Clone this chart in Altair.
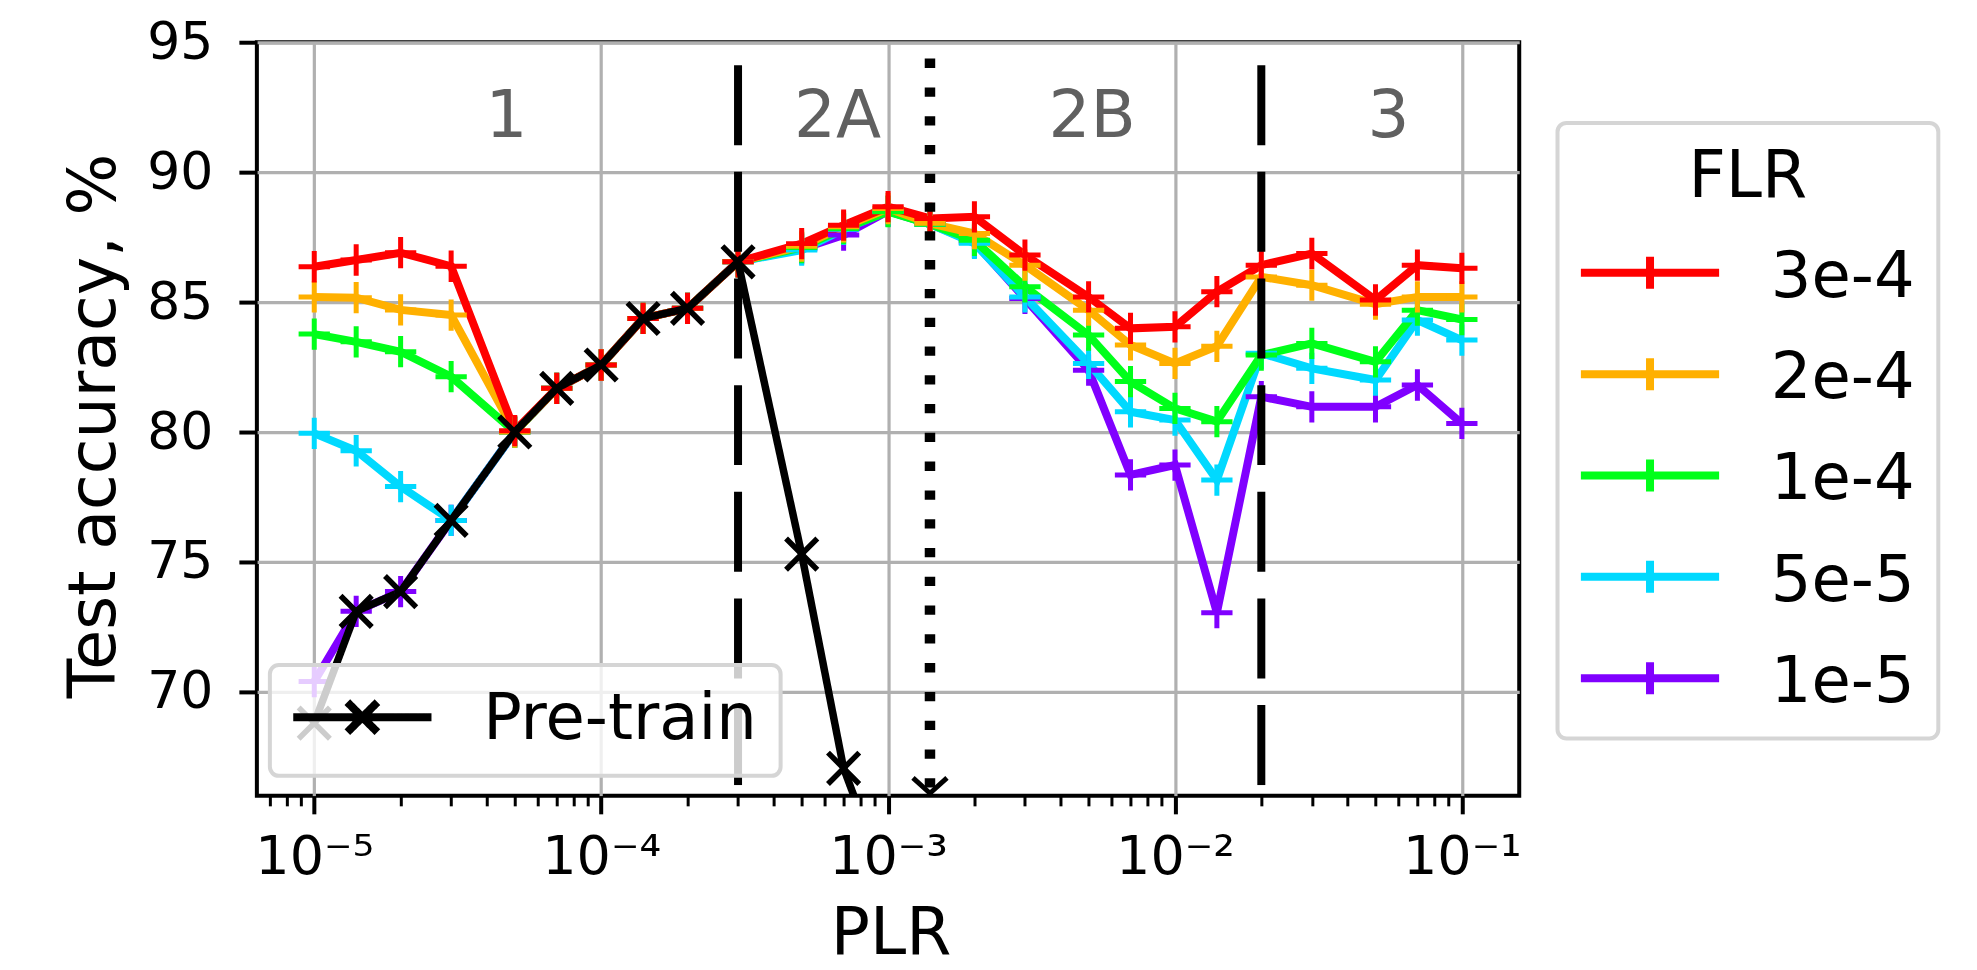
import altair as alt
import pandas as pd

# ---------------- data ----------------
plr = [1e-5, 1.4e-5, 2e-5, 3e-5, 5e-5, 7e-5, 1e-4, 1.4e-4, 2e-4, 3e-4,
       5e-4, 7e-4, 1e-3, 1.4e-3, 2e-3, 3e-3, 5e-3, 7e-3, 1e-2, 1.4e-2,
       2e-2, 3e-2, 5e-2, 7e-2, 1e-1]

flr_labels = ["3e-4", "2e-4", "1e-4", "5e-5", "1e-5"]
flr_colors = ["#ff0000", "#ffb000", "#00ff1a", "#00d9ff", "#8000ff"]

acc_3e4 = [86.36, 86.62, 86.90, 86.38, 80.05, 81.68, 82.58, 84.37, 84.76, 86.55,
           87.25, 87.96, 88.67, 88.22, 88.28, 86.81, 85.20, 83.99, 84.05, 85.40,
           86.42, 86.87, 85.08, 86.42, 86.30]
acc_2e4 = [85.20, 85.17, 84.70, 84.50, 80.00, 81.68, 82.58, 84.37, 84.76, 86.55,
           87.15, 87.90, 88.60, 88.03, 87.64, 86.42, 84.69, 83.35, 82.64, 83.30,
           85.97, 85.65, 84.92, 85.20, 85.20]
acc_1e4 = [83.77, 83.47, 83.09, 82.13, 80.00, 81.68, 82.58, 84.37, 84.76, 86.55,
           87.10, 87.83, 88.48, 88.00, 87.38, 85.59, 83.73, 81.94, 80.91, 80.40,
           82.96, 83.41, 82.70, 84.69, 84.33]
acc_5e5 = [79.95, 79.28, 77.90, 76.60, 80.00, 81.68, 82.58, 84.37, 84.76, 86.55,
           87.00, 87.80, 88.50, 88.00, 87.26, 85.20, 82.64, 80.78, 80.46, 78.15,
           83.03, 82.45, 82.00, 84.31, 83.54]
acc_1e5 = [70.40, 73.10, 73.86, 76.60, 80.00, 81.68, 82.58, 84.37, 84.76, 86.55,
           87.05, 87.58, 88.50, 88.00, 87.30, 85.14, 82.38, 78.35, 78.73, 73.05,
           81.36, 80.97, 80.97, 81.81, 80.33]

pretrain_plr = [1e-5, 1.4e-5, 2e-5, 3e-5, 5e-5, 7e-5, 1e-4, 1.4e-4, 2e-4, 3e-4,
                5e-4, 7e-4, 1e-3]
pretrain_acc = [68.80, 73.10, 73.86, 76.60, 80.00, 81.68, 82.58, 84.37, 84.76, 86.55,
                75.30, 67.06, 62.50]

region_labels = ["1", "2A", "2B", "3"]
region_x = [4.68e-5, 6.67e-4, 5.14e-3, 5.55e-2]
region_y = [91.35, 91.35, 91.35, 91.35]

dashed_x = [3e-4, 2e-2]
dotted_x = [1.4e-3]
dotted_top = [94.37]
dotted_bottom = [66.1]

x_major = [1e-5, 1e-4, 1e-3, 1e-2, 1e-1]
x_tick_labels = ["10⁻⁵", "10⁻⁴", "10⁻³", "10⁻²", "10⁻¹"]
x_minor = [7e-6, 8e-6, 9e-6] + [m * 10.0 ** e for e in (-5, -4, -3, -2) for m in range(2, 10)]
y_ticks = [70, 75, 80, 85, 90, 95]

# ---------------- tables ----------------
series_order = [("1e-5", acc_1e5), ("5e-5", acc_5e5), ("1e-4", acc_1e4),
                ("2e-4", acc_2e4), ("3e-4", acc_3e4)]
rows = []
for lab, vals in series_order:
    for xv, yv in zip(plr, vals):
        rows.append({"PLR": xv, "acc": yv, "FLR": lab})
flr_df = pd.DataFrame(rows)

pre_df = pd.DataFrame({"PLR": pretrain_plr, "acc": pretrain_acc,
                       "series": ["Pre-train"] * len(pretrain_plr)})
region_df = pd.DataFrame({"PLR": region_x, "acc": region_y, "label": region_labels})
dashed_df = pd.DataFrame({"PLR": dashed_x, "acc": [95] * len(dashed_x), "bottom": [66] * len(dashed_x)})
dotted_df = pd.DataFrame({"PLR": dotted_x, "acc": dotted_top, "bottom": dotted_bottom})

FONT = "DejaVu Sans"
x_scale = alt.Scale(type="log", domain=[10 ** -5.2, 10 ** -0.8], nice=False)
y_scale = alt.Scale(domain=[66, 95], nice=False, zero=False)

DEC = "log(datum.value)/LN10"
MAJOR = "abs(" + DEC + " - round(" + DEC + ")) < 0.001"
label_expr = ("(" + MAJOR + ") ? [" + ",".join("'" + s + "'" for s in x_tick_labels)
              + "][round(" + DEC + ")+5] : ''")

x_axis = alt.Axis(values=sorted(x_major + x_minor), labelExpr=label_expr, title="PLR",
                  grid=True, gridColor="#b0b0b0", gridWidth=3.2,
                  gridOpacity={"condition": {"test": MAJOR, "value": 1}, "value": 0},
                  tickSize={"condition": {"test": MAJOR, "value": 18}, "value": 10},
                  tickWidth={"condition": {"test": MAJOR, "value": 4}, "value": 3},
                  tickColor="black",
                  labelFont=FONT, labelFontSize=54, labelColor="black",
                  labelPadding=17, labelFlush=False, labelOverlap=False,
                  domain=False, titleFont=FONT, titleFontSize=65,
                  titleFontWeight="normal", titleColor="black",
                  titleX=634, titleY=158, titleBaseline="alphabetic",
                  titleAlign="center")
y_axis = alt.Axis(values=y_ticks, title="Test accuracy, %", grid=True,
                  gridColor="#b0b0b0", gridWidth=3.2, tickSize=18, tickWidth=4,
                  tickColor="black", labelFont=FONT, labelFontSize=52,
                  labelColor="black", labelPadding=26, labelFlush=False,
                  domain=False, titleFont=FONT, titleFontSize=65,
                  titleFontWeight="normal", titleColor="black", titleAngle=270,
                  titleX=-142, titleY=383.5, titleBaseline="alphabetic",
                  titleAlign="center")

flr_symbol = "M-1.143,-0.179H3.796M1.327,-0.75V0.392"
pre_symbol = "M-1.143,-0.11H3.796M0.79,-0.646L1.864,0.426M0.79,0.426L1.864,-0.646"

legend_common = dict(orient="none", labelFont=FONT, labelFontSize=64,
                     labelColor="black", labelOffset=126, symbolSize=3136,
                     symbolStrokeWidth=8, symbolOffset=0, rowPadding=32.4,
                     padding=23.4, fillColor="rgba(255,255,255,0.8)",
                     strokeColor="#d5d5d5", cornerRadius=9, labelLimit=500)

flr_legend = alt.Legend(legendX=1301.3, legendY=80.7, title="FLR",
                        titleFont=FONT, titleFontSize=65, titleFontWeight="normal",
                        titleColor="black", titleAnchor="middle", titlePadding=34.6,
                        symbolType=flr_symbol, **legend_common)
pre_legend = alt.Legend(legendX=13, legendY=623, title=None,
                        symbolType=pre_symbol, symbolStrokeColor="black",
                        **legend_common)

flr_color = alt.Color("FLR:N", scale=alt.Scale(domain=flr_labels, range=flr_colors),
                      legend=flr_legend)
pre_dash = alt.StrokeDash("series:N", scale=alt.Scale(domain=["Pre-train"], range=[[1, 0]]),
                          legend=pre_legend)

PLUS = "M-1,0H1M0,-1V1"
CROSS = "M-1,-1L1,1M-1,1L1,-1"

# identical axis objects on every layer so the shared axes merge cleanly
X = lambda f="PLR:Q": alt.X(f, scale=x_scale, axis=x_axis)
Y = lambda f="acc:Q": alt.Y(f, scale=y_scale, axis=y_axis)

flr_lines = alt.Chart(flr_df).mark_line(strokeWidth=8).encode(
    x=X(), y=Y(), color=flr_color)
flr_pts = alt.Chart(flr_df).mark_point(shape=PLUS, filled=False, size=980, strokeWidth=5,
                                       opacity=1).encode(
    x=X(), y=Y(), color=flr_color)

dashed = alt.Chart(dashed_df).mark_rule(color="black", strokeWidth=8,
                                        strokeDash=[80, 26.7],
                                        strokeDashOffset=83.7).encode(
    x=X(), y=Y(), y2="bottom:Q")
dotted = alt.Chart(dotted_df).mark_rule(color="black", strokeWidth=10.5,
                                        strokeDash=[9.3, 19.5]).encode(
    x=X(), y=Y(), y2="bottom:Q")
arrow = alt.Chart(dotted_df).mark_point(shape="M-1,-0.9L0,0L1,-0.9", filled=False,
                                        size=1156, strokeWidth=5, color="black",
                                        opacity=1).encode(
    x=X(), y=Y("bottom:Q"))

pre_line = alt.Chart(pre_df).mark_line(strokeWidth=7.5, color="black", clip=True).encode(
    x=X(), y=Y(), strokeDash=pre_dash)
pre_pts = alt.Chart(pre_df).mark_point(shape=CROSS, filled=False, size=980, strokeWidth=5.5,
                                       color="black", opacity=1, clip=True).encode(
    x=X(), y=Y())

regions = alt.Chart(region_df).mark_text(font=FONT, fontSize=66, color="#606060",
                                         align="center", baseline="alphabetic").encode(
    x=X(), y=Y(), text="label:N")

chart = alt.layer(flr_lines, flr_pts, dashed, dotted, arrow, pre_line, pre_pts,
                  regions).properties(
    width=1263, height=754, autosize="none",
    padding={"left": 249, "top": 34, "right": 450, "bottom": 174},
    background="white",
).configure_view(stroke="black", strokeWidth=4).configure_legend(strokeWidth=4)

chart.save("out.html", embed_options={"renderer": "svg", "actions": False})
